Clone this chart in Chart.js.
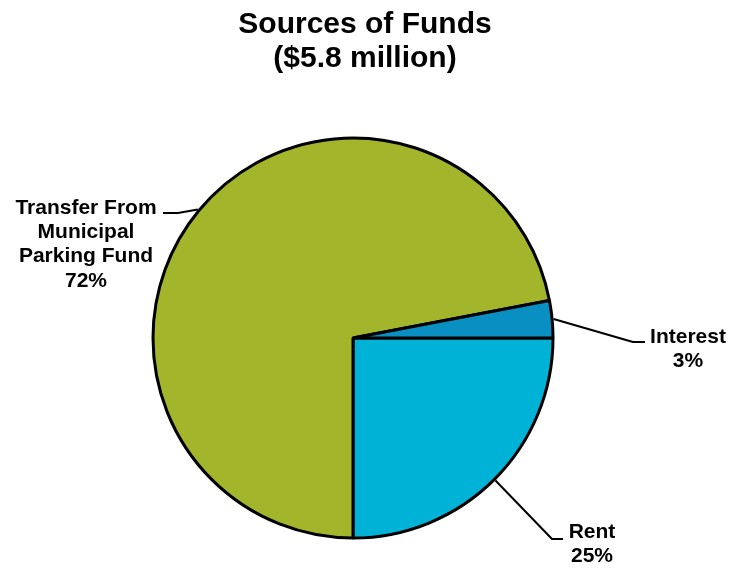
<!DOCTYPE html>
<html>
<head>
<meta charset="utf-8">
<title>Sources of Funds</title>
<script src="https://cdn.jsdelivr.net/npm/chart.js@4/dist/chart.umd.min.js"></script>
<style>
  html, body { margin: 0; padding: 0; background: #ffffff; }
  canvas { display: block; }
</style>
</head>
<body>
<canvas id="funds" width="737" height="568"></canvas>
<script>
// Chart content
const titleLines = ['Sources of Funds', '($5.8 million)'];
const categories = ['Rent', 'Transfer From\nMunicipal\nParking Fund', 'Interest'];
const shares = [25, 72, 3];
const sliceColors = ['#00B2D6', '#A3B52A', '#0A8FC2'];

// Where each category's text block sits and how its leader line bends
// (elbow and line end relative to the pie centre, text anchor in canvas px).
const calloutLayout = [
  { elbow: [199, 201], end: [210, 201], text: [592, 532], align: 'center' },
  { elbow: [-175, -125], end: [-190, -125], text: [86, 208], align: 'center' },
  { elbow: [280, 4], end: [292, 4], text: [688, 337], align: 'center' }
];

const FONT = '"Liberation Sans", Arial, Helvetica, sans-serif';

const titlePlugin = {
  id: 'twoLineTitle',
  afterDraw(chart) {
    const ctx = chart.ctx;
    ctx.save();
    ctx.fillStyle = '#000';
    ctx.font = 'bold 30px ' + FONT;
    ctx.textAlign = 'center';
    ctx.textBaseline = 'middle';
    titleLines.forEach((line, i) => ctx.fillText(line, 365, 25 + i * 34));
    ctx.restore();
  }
};

const calloutPlugin = {
  id: 'callouts',
  afterDatasetsDraw(chart) {
    const ctx = chart.ctx;
    const meta = chart.getDatasetMeta(0);
    const total = shares.reduce((a, b) => a + b, 0);
    ctx.save();
    meta.data.forEach((arc, i) => {
      const p = arc.getProps(['x', 'y', 'startAngle', 'endAngle', 'outerRadius'], true);
      const mid = (p.startAngle + p.endAngle) / 2;
      const r = p.outerRadius + 1.5;
      const ax = p.x + Math.cos(mid) * r;
      const ay = p.y + Math.sin(mid) * r;
      const lay = calloutLayout[i];
      ctx.strokeStyle = '#000';
      ctx.lineWidth = 2;
      ctx.lineJoin = 'round';
      ctx.beginPath();
      ctx.moveTo(ax, ay);
      ctx.lineTo(p.x + lay.elbow[0], p.y + lay.elbow[1]);
      ctx.lineTo(p.x + lay.end[0], p.y + lay.end[1]);
      ctx.stroke();

      const pct = Math.round(shares[i] / total * 100) + '%';
      const lines = categories[i].split('\n').concat([pct]);
      ctx.fillStyle = '#000';
      ctx.font = 'bold 21px ' + FONT;
      ctx.textAlign = lay.align;
      ctx.textBaseline = 'middle';
      lines.forEach((t, k) => ctx.fillText(t, lay.text[0], lay.text[1] + k * 24.3));
    });
    ctx.restore();
  }
};

new Chart(document.getElementById('funds'), {
  type: 'pie',
  data: {
    labels: categories,
    datasets: [{
      data: shares,
      backgroundColor: sliceColors,
      borderColor: '#000000',
      borderWidth: 3,
      radius: 200,
      rotation: 90
    }]
  },
  options: {
    responsive: false,
    animation: false,
    devicePixelRatio: 1,
    layout: { padding: { left: 0, right: 31, top: 130, bottom: 22 } },
    plugins: {
      legend: { display: false },
      tooltip: { enabled: false },
      title: { display: false }
    }
  },
  plugins: [titlePlugin, calloutPlugin]
});
</script>
</body>
</html>
